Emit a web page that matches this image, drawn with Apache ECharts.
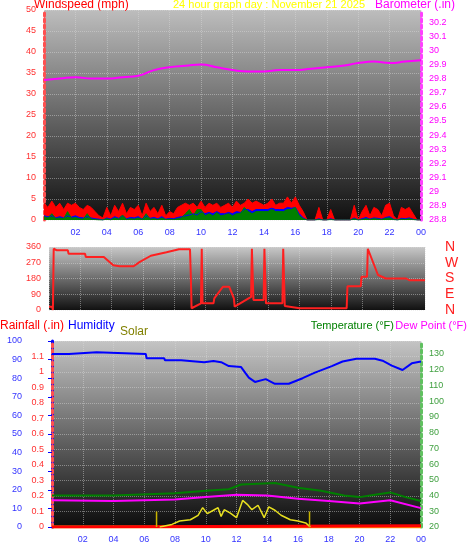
<!DOCTYPE html>
<html><head><meta charset="utf-8">
<script src="https://cdn.jsdelivr.net/npm/echarts@6/dist/echarts.min.js"></script>
<style>html,body{margin:0;padding:0;background:#fff}#c{width:470px;height:554px}</style>
</head><body><div id="c"></div>
<script>
// ---- data ----
const xTickLabels = ['00','02','04','06','08','10','12','14','16','18','20','22','00'];
const baroHours = [0,1,2,3,4,5,6,7,8,9,10,11,12,13,14,15,16,17,18,19,20,21,22,23,24];
const baroValues = [29.79,29.80,29.81,29.80,29.80,29.81,29.82,29.86,29.88,29.89,29.90,29.88,29.86,29.85,29.85,29.86,29.86,29.87,29.88,29.89,29.91,29.92,29.91,29.92,29.93];
// wind every 15 minutes
const gustValues = [4,3,4.5,3,4,2.5,4,3.5, 4,3,2.5,3.5,3,2,1,0.5, 3,1,3.5,2,4,1.5,3,2.5, 3.5,1,4,2,3,1.5,3.5,1,
  2,1.5,3,3.5,4,3.5,4,3, 4.5,3,4,3.5,4,3,3.5,4, 3,4.5,3.5,4,5,4,4.5,4, 3.5,4,5,3.5,4,4,5.5,4,
  5.5,3.5,2,0,0,0,3,0, 0,2.5,0,0,0,0,0,3.5, 0,2,3.5,1,3,2.5,1,3.5, 4,1,0,3,2.5,3,1.5,0,0];
const avgValues = [1,0.8,1,0.5,0.8,0.5,1,0.7, 1,0.6,0.5,0.8,0.5,0.3,0.2,0, 0.5,0.2,0.8,0.4,1,0.3,0.6,0.5, 0.8,0.2,1,0.4,0.6,0.3,0.8,0.2,
  0.4,0.3,0.6,0.8,1,1.2,1.5,1.2, 2,1.5,1.8,1.5,2,1.5,1.5,1.8, 1.5,2,1.8,2.5,2.5,2,2.5,2.5, 2.5,2.5,2.8,2.5,2.5,2.5,3,2.8,
  3,1.5,0.5,0,0,0,0.3,0, 0,0.3,0,0,0,0,0,0.5, 0,0.3,0.6,0.2,0.5,0.4,0.2,0.6, 0.8,0.2,0,0.4,0.3,0.5,0.2,0,0];
const windValues = [0.8,0.5,1.5,0.3,0.5,0.3,2,0.4, 0.6,0.3,0.2,1.5,0.2,0.1,0,0, 0.3,0,0.5,0.2,1.2,0.1,0.3,0.2, 0.5,0.1,1.5,0.2,0.3,0.1,0.5,0.1,
  0.2,0.1,0.3,0.5,1.5,2.5,1,2.5, 2.5,1,1.5,1,1.8,1,1.2,1.5, 1,1.5,1.5,3,2,1.5,2,2, 2,2,2.5,2,2,2,2.5,2.5,
  3,1,0.3,0,0,0,0.1,0, 0,0.1,0,0,0,0,0,0.3, 0,0.1,0.3,0.1,0.3,0.2,0.1,0.4, 0.5,0.1,0,0.2,0.1,0.3,0.1,0,0];
const dirHours = [0,0.2,0.25,0.3,0.5,1.2,1.25,2.3,2.35,3.5,4.1,4.5,5.4,5.8,6.5,7.5,8.3,9.0,9.05,9.1,9.7,9.75,9.8,10.5,10.55,11.1,11.5,11.8,11.85,12.9,12.95,13.0,13.05,13.7,13.75,13.8,13.85,14.9,14.95,15.0,15.05,16.0,19.0,19.05,19.9,19.95,20.3,20.35,21.0,21.5,22.8,23.0,24];
const dirValues = [19,19,0,350,341,341,322,322,303,303,256,250,250,275,310,330,347,347,200,10,38,350,38,38,66,133,133,66,19,75,350,350,57,57,350,350,38,38,350,350,23,10,10,136,136,190,190,350,200,180,180,170,170];
const humHours = [0,1.1,1.15,2.9,2.95,6.1,6.15,7.3,7.35,8.4,8.45,9.9,10.5,11.0,11.5,12.3,12.8,13.2,13.9,14.5,15.4,16.3,17.1,18.2,18.9,19.8,21.0,21.5,22.1,22.8,23.4,24];
const humValues = [93,93,94,94,93,93,90.7,90.7,89.6,89.6,88.6,88.6,89.2,88.6,86.5,86,80.3,78,79.5,77,77,80,83,86.5,89,90.5,90.5,89.4,86.8,84.4,88,89];
const tempHours = [0,4,8,10,11.5,12.3,14.5,16,17.5,19,20,21,22,23,24];
const tempValues = [40,40,41.5,43,44,47,48,45,43,40,39,40.5,42,39,36.5];
const dewHours = [0,4,8,10,12,14,16,18,20,22,24];
const dewValues = [37,36.5,37.5,39,40.5,40,38,36.5,35,37,32];
const solarHours = [7.0,7.8,8.3,9.0,9.5,9.8,10.1,10.5,10.8,11.0,11.2,11.6,12.0,12.4,12.7,13.0,13.4,13.8,14.1,14.5,14.9,15.5,16.0,16.5,16.8];
const solarValues = [0,14,32,39,63,104,72,90,104,57,93,75,50,143,122,93,117,50,108,90,63,39,32,22,0];
const sunMarkHours = [6.8,16.75];
const sunMarkValue = 84;
const rainHours = [0,1.5,1.55,24];
const rainValues = [0,0,0.008,0.008];

// ---- chart ----
const q = a => a.map((v,i)=>[i*0.25,v]);
const zip = (h,v) => h.map((x,i)=>[x,v[i]]);
const bg = (c1,c2)=>({type:'linear',x:0,y:0,x2:0,y2:1,colorStops:[{offset:0,color:c1},{offset:1,color:c2}]});
const FONT = 'Liberation Sans';
const grid = [
  {left:44,right:49,top:10,height:210,show:true,borderWidth:0,backgroundColor:bg('#bdbdbd','#101010')},
  {left:49,right:45,top:247,height:63,show:true,borderWidth:0,backgroundColor:bg('#c8c8c8','#111')},
  {left:52,right:49,top:341,height:186,show:true,borderWidth:0,backgroundColor:bg('#c4c4c4','#0c0c0c')}
];
const split = {show:true,lineStyle:{color:'rgba(220,220,220,0.45)',type:'dotted',width:1}};
function xa(i,labels){return {type:'value',gridIndex:i,min:0,max:24,interval:2,
  axisLine:{show:false},axisTick:{show:false},splitLine:split,
  axisLabel:{show:labels,color:'#3333ff',fontSize:9,fontFamily:FONT,showMinLabel:false,
    formatter:v=>xTickLabels[v/2]}};}
const lbl = (c,extra)=>Object.assign({color:c,fontSize:9,fontFamily:FONT},extra||{});
const yAxis = [
  {type:'value',gridIndex:0,min:0,max:50,interval:5,axisLine:{show:true,lineStyle:{color:'#ff5050',type:'dotted',width:3}},
   axisTick:{show:false},splitLine:split,axisLabel:lbl('#ff3030')},
  {type:'value',gridIndex:0,position:'right',min:28.8,max:30.285,interval:0.1,axisLine:{show:true,lineStyle:{color:'#ff40ff',type:'dotted',width:3}},
   axisTick:{show:false},splitLine:{show:false},axisLabel:lbl('#ff00ff',{showMaxLabel:false,formatter:v=>String(+v.toFixed(1))})},
  {type:'value',gridIndex:1,min:0,max:360,interval:90,axisLine:{show:false},axisTick:{show:false},splitLine:split,axisLabel:lbl('#ff3030')},
  {type:'value',gridIndex:1,position:'right',offset:12,min:0,max:360,interval:90,axisLine:{show:false},axisTick:{show:false},splitLine:{show:false},
   axisLabel:{color:'#ff2020',fontSize:14,fontFamily:FONT,formatter:v=>['N','E','S','W','N'][v/90]}},
  {type:'value',gridIndex:2,min:0,max:100,interval:10,position:'left',offset:22,axisLine:{show:true,lineStyle:{color:'#0000ff',width:3}},
   axisTick:{show:true,length:4,lineStyle:{color:'#0000ff'}},splitLine:{show:false},axisLabel:lbl('#3333ff')},
  {type:'value',gridIndex:2,min:0,max:1.2,interval:0.1,position:'left',axisLine:{show:true,lineStyle:{color:'#ff5050',type:'dotted',width:3}},
   axisTick:{show:false},splitLine:split,axisLabel:lbl('#ff3030',{showMaxLabel:false,formatter:v=>String(+v.toFixed(1))})},
  {type:'value',gridIndex:2,position:'right',min:20,max:138.27,interval:10,axisLine:{show:true,lineStyle:{color:'#60c060',type:'dotted',width:3}},
   axisTick:{show:false},splitLine:{show:false},axisLabel:lbl('#40a040',{showMaxLabel:false})},
  {type:'value',gridIndex:2,min:0,max:1000,show:false}
];
const L = (xi,yi,data,color,w,extra)=>Object.assign({type:'line',xAxisIndex:xi,yAxisIndex:yi,data,symbol:'none',
  lineStyle:{color,width:w},itemStyle:{color},animation:false},extra||{});
const series = [
  L(0,0,q(gustValues),'#ff0000',1,{areaStyle:{color:'#ff0000',opacity:1}}),
  L(0,0,q(avgValues),'#0000ff',1,{areaStyle:{color:'#0000ff',opacity:1}}),
  L(0,0,q(windValues),'#008000',1,{areaStyle:{color:'#008000',opacity:1}}),
  L(0,1,zip(baroHours,baroValues),'#ff00ff',2,{smooth:true}),
  L(1,2,zip(dirHours,dirValues),'#ff2020',2),
  L(2,5,zip([0,24],[0,0]),'#ff9900',3),
  L(2,5,zip(rainHours,rainValues),'#ff0000',3),
  L(2,6,zip(tempHours,tempValues),'#008000',2),
  L(2,6,zip(dewHours,dewValues),'#ff00ff',2),
  L(2,4,zip(humHours,humValues),'#0000ff',2),
  L(2,7,zip(solarHours,solarValues),'#e8e020',1.5),
  L(2,7,[[sunMarkHours[0],0],[sunMarkHours[0],sunMarkValue]],'#c8b400',1.5),
  L(2,7,[[sunMarkHours[1],0],[sunMarkHours[1],sunMarkValue]],'#c8b400',1.5)
];
const T = (x,y,text,fill,fs)=>({type:'text',left:x,top:y,style:{text,fill,font:(fs||12)+'px "'+FONT+'"'}});
const TR = (r,y,text,fill,fs)=>({type:'text',right:r,top:y,style:{text,fill,font:(fs||12)+'px "'+FONT+'"'}});
const chart = echarts.init(document.getElementById('c'));
chart.setOption({
  animation:false,
  grid, xAxis:[xa(0,true),xa(1,false),xa(2,true)], yAxis, series,
  graphic:[
    T(34,-1,'Windspeed (mph)','#ff0000',12),
    T(173,-1,'24 hour graph day : November 21 2025','#ffff00',11),
    T(375,-1,'Barometer (.in)','#ff00ff',12),
    T(0,320,'Rainfall (.in)','#ff0000',12),
    T(68,320,'Humidity','#0000ff',12),
    T(120,326,'Solar','#808000',12),
    TR(76,320,'Temperature (°F)','#008000',11),
    TR(3,320,'Dew Point (°F)','#ff00ff',11)
  ]
});
</script></body></html>
